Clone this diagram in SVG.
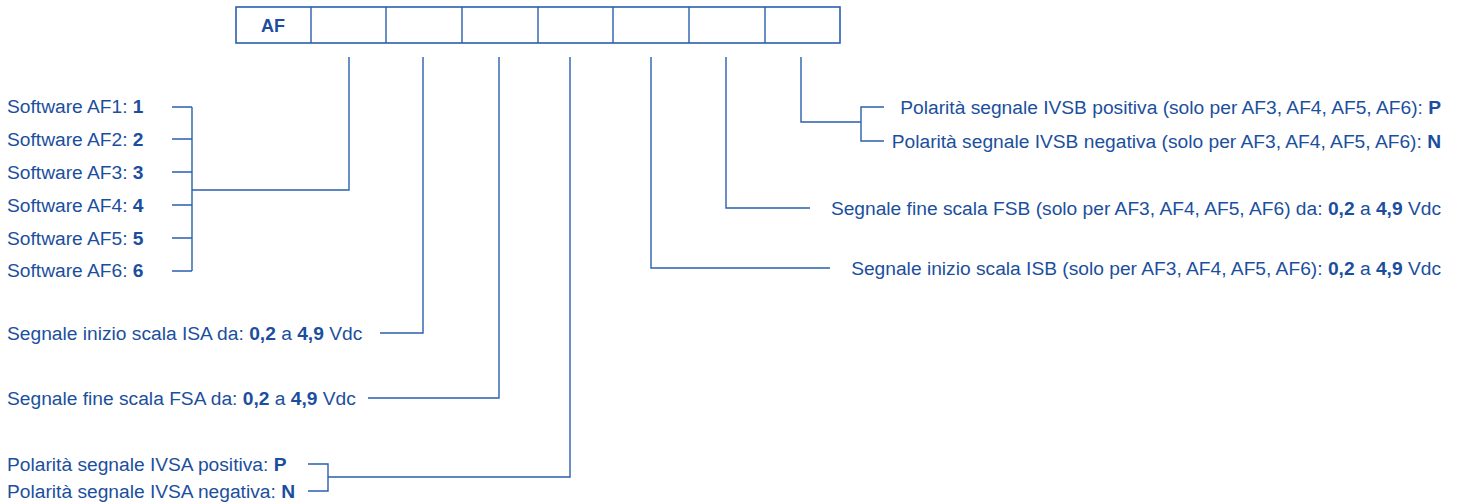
<svg xmlns="http://www.w3.org/2000/svg" width="1459" height="503" viewBox="0 0 1459 503">
<style>
text{font-family:"Liberation Sans",Arial,sans-serif;font-size:19.2px;fill:#1b4f9e}
.b{font-weight:bold}
.r{text-anchor:end}
.ln{fill:none;stroke:#2a60ae;stroke-width:1.4}
.cell{fill:#fff;stroke:#2a60ae;stroke-width:1.6}
</style>
<rect width="1459" height="503" fill="#fff"/>
<g id="code-box">
<rect class="cell" x="236" y="7" width="604" height="36"/>
<path class="ln" d="M311 7V43M386 7V43M462 7V43M538 7V43M613 7V43M689 7V43M765 7V43"/>
<text x="273" y="32" text-anchor="middle" class="b" style="font-size:18px">AF</text>
</g>
<g id="connectors">
<path class="ln" d="M349 57V190H192M172 107H192M172 139H192M172 172H192M172 205H192M172 238H192M172 271H192M192 107V271"/>
<path class="ln" d="M423 57V333H380"/>
<path class="ln" d="M499 57V398H368"/>
<path class="ln" d="M570 57V477H328M308 464H328V491H308"/>
<path class="ln" d="M651 57V268H830"/>
<path class="ln" d="M726 57V208H810"/>
<path class="ln" d="M801 57V122H861M884 107H861V141H884"/>
</g>
<g id="software">
<text x="7" y="113">Software AF1: <tspan class="b">1</tspan></text>
<text x="7" y="146">Software AF2: <tspan class="b">2</tspan></text>
<text x="7" y="179">Software AF3: <tspan class="b">3</tspan></text>
<text x="7" y="212">Software AF4: <tspan class="b">4</tspan></text>
<text x="7" y="245">Software AF5: <tspan class="b">5</tspan></text>
<text x="7" y="277">Software AF6: <tspan class="b">6</tspan></text>
</g>
<g id="isa"><text x="7" y="340">Segnale inizio scala ISA da: <tspan class="b">0,2</tspan> a <tspan class="b">4,9</tspan> Vdc</text></g>
<g id="fsa"><text x="7" y="405">Segnale fine scala FSA da: <tspan class="b">0,2</tspan> a <tspan class="b">4,9</tspan> Vdc</text></g>
<g id="ivsa">
<text x="7" y="471">Polarità segnale IVSA positiva: <tspan class="b">P</tspan></text>
<text x="7" y="498">Polarità segnale IVSA negativa: <tspan class="b">N</tspan></text>
</g>
<g id="ivsb">
<text class="r" x="1441" y="114">Polarità segnale IVSB positiva (solo per AF3, AF4, AF5, AF6): <tspan class="b">P</tspan></text>
<text class="r" x="1441" y="148">Polarità segnale IVSB negativa (solo per AF3, AF4, AF5, AF6): <tspan class="b">N</tspan></text>
</g>
<g id="fsb"><text class="r" x="1441" y="215">Segnale fine scala FSB (solo per AF3, AF4, AF5, AF6) da: <tspan class="b">0,2</tspan> a <tspan class="b">4,9</tspan> Vdc</text></g>
<g id="isb"><text class="r" x="1441" y="275">Segnale inizio scala ISB (solo per AF3, AF4, AF5, AF6): <tspan class="b">0,2</tspan> a <tspan class="b">4,9</tspan> Vdc</text></g>
</svg>
